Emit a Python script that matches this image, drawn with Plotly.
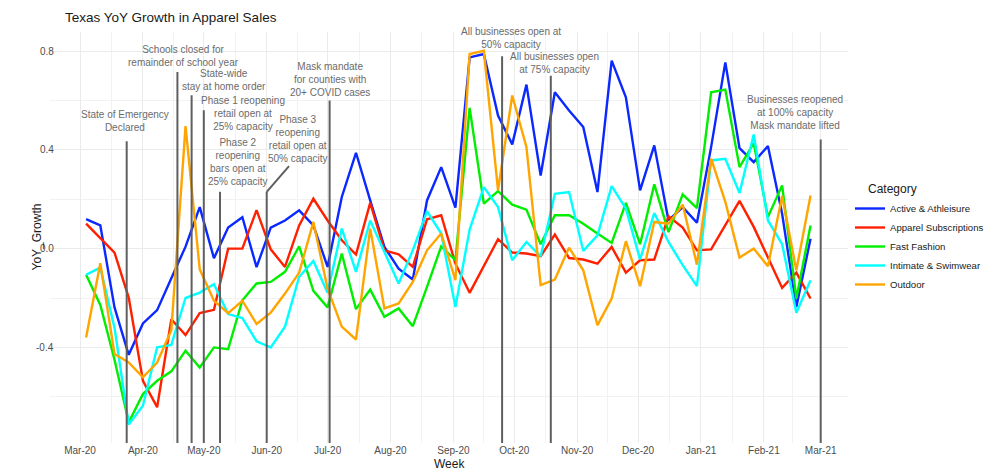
import plotly.graph_objects as go
import pandas as pd

# ---------------- data ----------------
weeks = pd.date_range("2020-03-04", periods=52, freq="7D")

categories = ["Active & Athleisure", "Apparel Subscriptions", "Fast Fashion",
              "Intimate & Swimwear", "Outdoor"]

active_athleisure = [0.119, 0.094, -0.238, -0.430, -0.303, -0.249, -0.120, 0.008, 0.168, -0.039,
                     0.085, 0.127, -0.075, 0.085, 0.114, 0.155, 0.094, -0.074, 0.209, 0.388,
                     0.195, 0.007, -0.081, -0.125, 0.195, 0.330, 0.166, 0.774, 0.788, 0.539,
                     0.422, 0.664, 0.296, 0.633, 0.559, 0.492, 0.229, 0.761, 0.613, 0.236,
                     0.418, 0.114, 0.168, 0.105, 0.411, 0.754, 0.407, 0.350, 0.415, 0.141,
                     -0.236, 0.040]
apparel_subscriptions = [0.101, 0.044, -0.016, -0.198, -0.535, -0.642, -0.286, -0.350, -0.261, -0.248,
                         0.000, 0.000, 0.156, -0.003, -0.074, 0.094, 0.202, 0.114, 0.034, -0.024,
                         0.185, -0.007, -0.023, -0.074, 0.119, 0.135, -0.061, -0.179, -0.071, 0.038,
                         -0.016, -0.020, -0.031, 0.057, -0.038, -0.044, -0.061, 0.007, -0.097, -0.047,
                         -0.044, 0.131, 0.085, -0.007, -0.003, 0.094, 0.193, 0.088, -0.034, -0.159,
                         -0.097, -0.202]
fast_fashion = [-0.106, -0.228, -0.450, -0.703, -0.589, -0.535, -0.497, -0.413, -0.481, -0.400,
                -0.407, -0.209, -0.141, -0.135, -0.094, 0.009, -0.171, -0.238, -0.020, -0.245,
                -0.166, -0.276, -0.242, -0.314, -0.155, 0.009, -0.047, 0.570, 0.182, 0.233,
                0.178, 0.158, 0.018, 0.135, 0.135, 0.101, 0.061, 0.023, 0.185, 0.018,
                0.260, 0.067, 0.220, 0.164, 0.633, 0.644, 0.330, 0.427, 0.128, 0.256,
                -0.202, 0.094]
intimate_swimwear = [-0.106, -0.077, -0.320, -0.712, -0.636, -0.400, -0.390, -0.200, -0.178, -0.144,
                     -0.265, -0.281, -0.375, -0.400, -0.316, -0.114, -0.050, -0.179, 0.081, -0.094,
                     0.114, -0.013, -0.141, -0.007, 0.152, 0.061, -0.236, 0.077, 0.249, 0.168,
                     -0.047, 0.027, -0.031, 0.222, 0.229, -0.009, 0.054, 0.253, 0.162, -0.044,
                     0.144, 0.027, -0.067, -0.152, 0.357, 0.364, 0.225, 0.462, 0.114, 0.018,
                     -0.260, -0.128]
outdoor = [-0.360, -0.059, -0.427, -0.461, -0.521, -0.461, -0.330, 0.496, -0.084, -0.211,
           -0.261, -0.211, -0.305, -0.259, -0.182, -0.097, 0.108, -0.162, -0.316, -0.368,
           0.081, -0.242, -0.222, -0.135, -0.007, 0.061, -0.128, 0.788, 0.801, 0.236,
           0.620, 0.411, -0.148, -0.125, 0.004, -0.088, -0.310, -0.202, 0.030, -0.152,
           0.108, 0.101, 0.178, -0.065, 0.364, 0.189, -0.036, 0.000, -0.071, 0.213,
           -0.088, 0.215]

series = [active_athleisure, apparel_subscriptions, fast_fashion, intimate_swimwear, outdoor]
colors = ["#0A28FF", "#FF2000", "#00EE00", "#00FFFF", "#FFA500"]

# events (vertical markers)
event_dates = ["2020-03-24", "2020-04-18", "2020-04-25", "2020-05-01", "2020-05-09",
               "2020-06-01", "2020-07-02", "2020-09-25", "2020-10-19", "2021-03-01"]
event_tops = [0.435, 0.715, 0.621, 0.560, 0.230, 0.230, 0.600, 0.779, 0.700, 0.442]
event_texts = [
    "State of Emergency<br>Declared",
    "Schools closed for<br>remainder of school year",
    "State-wide<br>stay at home order",
    "Phase 1 reopening<br>retail open at<br>25% capacity",
    "Phase 2<br>reopening<br>bars open at<br>25% capacity",
    "Phase 3<br>reopening<br>retail open at<br>50% capacity",
    "Mask mandate<br>for counties with<br>20+ COVID cases",
    "All businesses open at<br>50% capacity",
    "All businesses open<br>at 75% capacity",
    "Businesses reopened<br>at 100% capacity<br>Mask mandate lifted",
]
# label positions (pixel centres)
label_px = [(125, 121), (183.3, 56), (224.3, 79.7), (242.7, 114), (237.7, 161.7),
            (297.3, 138.7), (330, 79.3), (510.7, 37.5), (554.3, 63.5), (795, 112.7)]
# leader line for Phase 3 label
phase3_leader_end = ("2020-06-12", 0.334)

y_ticks = [-0.4, 0.0, 0.4, 0.8]
y_tick_labels = ["-0.4", "0.0", "0.4", "0.8"]
y_minor = [-0.6, -0.2, 0.2, 0.6]

# ---------------- layout geometry ----------------
W, H = 984, 470
PL, PR, PT, PB = 50, 848, 32, 443
X_RANGE = ["2020-02-15 05:00", "2021-03-14 11:00"]
Y_RANGE = [-0.787, 0.877]


def fx(px):
    return (px - PL) / (PR - PL)


def fy(py):
    return (PB - py) / (PB - PT)


FONT = "Liberation Sans, Arial, sans-serif"

fig = go.Figure()
for name, vals, c in zip(categories, series, colors):
    fig.add_trace(go.Scatter(x=weeks, y=vals, mode="lines", name=name,
                             line=dict(color=c, width=2.4)))

shapes = []
for d, top in zip(event_dates, event_tops):
    shapes.append(dict(type="line", xref="x", yref="y", x0=d, x1=d, y0=Y_RANGE[0], y1=top,
                       line=dict(color="#5f5f5f", width=2), layer="above"))
shapes.append(dict(type="line", xref="x", yref="y", x0=event_dates[5], y0=event_tops[5],
                   x1=phase3_leader_end[0], y1=phase3_leader_end[1],
                   line=dict(color="#5f5f5f", width=2), layer="above"))

annotations = []
for t, (px, py) in zip(event_texts, label_px):
    annotations.append(dict(text=t, xref="paper", yref="paper", x=fx(px), y=fy(py),
                            xanchor="center", yanchor="middle", showarrow=False,
                            font=dict(family=FONT, size=10, color="#6b6b6b")))
for v, lab in zip(y_ticks, y_tick_labels):
    annotations.append(dict(text=lab, xref="paper", yref="y", x=fx(55.5), y=v,
                            xanchor="right", yanchor="middle", showarrow=False,
                            font=dict(family=FONT, size=10, color="#4d4d4d")))
annotations.append(dict(text="YoY_Growth", xref="paper", yref="paper", x=fx(36), y=0.5,
                        textangle=-90, showarrow=False, xanchor="center", yanchor="middle",
                        font=dict(family=FONT, size=12, color="#1a1a1a")))
annotations.append(dict(text="Week", xref="paper", yref="paper", x=0.5, y=fy(464),
                        showarrow=False, xanchor="center", yanchor="middle",
                        font=dict(family=FONT, size=12, color="#1a1a1a")))
annotations.append(dict(text="Category", xref="paper", yref="paper", x=fx(865.5), y=fy(189),
                        showarrow=False, xanchor="left", yanchor="middle",
                        font=dict(family=FONT, size=12, color="#1a1a1a")))

month_starts = pd.date_range("2020-02-01", "2021-04-01", freq="MS")
minor_x = [month_starts[i] + (month_starts[i + 1] - month_starts[i]) / 2
           for i in range(len(month_starts) - 1)]

fig.update_layout(
    width=W, height=H,
    margin=dict(l=PL, r=W - PR, t=PT, b=H - PB, autoexpand=False),
    paper_bgcolor="white", plot_bgcolor="white",
    font=dict(family=FONT),
    title=dict(text="Texas YoY Growth in Apparel Sales", xref="container", yref="container",
               x=65 / W, y=1 - 17 / H, xanchor="left", yanchor="middle",
               font=dict(family=FONT, size=13.5, color="#1a1a1a")),
    xaxis=dict(type="date", range=X_RANGE, dtick="M1", tick0="2020-03-01",
               tickformat="%b-%y", showgrid=True, gridcolor="#EBEBEB", gridwidth=1,
               zeroline=False, showline=False, ticks="",
               tickfont=dict(family=FONT, size=10, color="#4d4d4d"),
               minor=dict(tickmode="array", tickvals=minor_x, showgrid=True,
                          gridcolor="#F2F2F2", gridwidth=0.6),
               automargin=False),
    yaxis=dict(range=Y_RANGE, tickmode="array", tickvals=y_ticks,
               showticklabels=False,
               showgrid=True, gridcolor="#EBEBEB", gridwidth=1,
               zeroline=False, showline=False, ticks="",
               minor=dict(tickmode="array", tickvals=y_minor, showgrid=True,
                          gridcolor="#F2F2F2", gridwidth=0.6),
               automargin=False),
    legend=dict(x=fx(850), y=fy(194), xanchor="left", yanchor="top",
                font=dict(family=FONT, size=9.6, color="#1a1a1a"),
                bgcolor="rgba(0,0,0,0)", itemwidth=30),
    shapes=shapes,
    annotations=annotations,
)

fig.write_html("out.html", config={"displayModeBar": False},
               post_script="document.body.style.margin='0px';document.body.style.padding='0px';")
